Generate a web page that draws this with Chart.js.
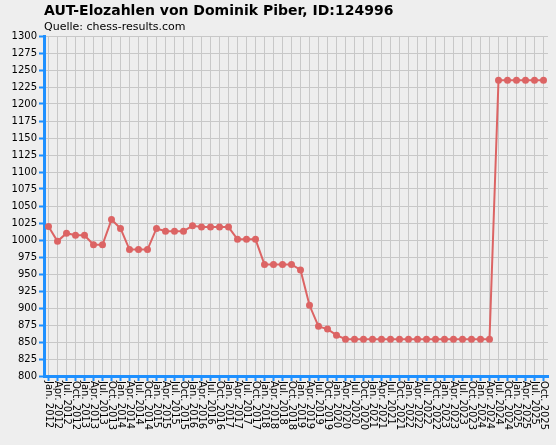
<!DOCTYPE html>
<html><head><meta charset="utf-8">
<script src="https://cdn.jsdelivr.net/npm/chart.js@4"></script>
<style>
html,body{margin:0;padding:0;background:#eeeeee;}
#wrap{position:relative;width:556px;height:445px;}
#t{position:absolute;left:44px;top:2px;font:bold 14px "DejaVu Sans",sans-serif;color:#000;}
#s{position:absolute;left:44px;top:20px;font:11px "DejaVu Sans",sans-serif;color:#000;}
</style></head><body>
<div id="wrap"><canvas id="c" width="556" height="445"></canvas>
<div id="t">AUT-Elozahlen von Dominik Piber, ID:124996</div>
<div id="s">Quelle: chess-results.com</div></div>
<script>
const years=[2012,2013,2014,2015,2016,2017,2018,2019,2020,2021,2022,2023,2024,2025];
const months=["Jan.","Apr.","Jul.","Oct."];
const labels=[];years.forEach(y=>months.forEach(m=>labels.push(m+" "+y)));
const elo=[1020,998,1010,1007, 1007,993,993,1030, 1017,986,986,986, 1017,1013,1013,1013,
 1021,1019,1019,1019, 1019,1001,1001,1001, 964,964,964,964, 956,904,873,869,
 860,854,854,854, 854,854,854,854, 854,854,854,854, 854,854,854,854,
 854,854,1235,1235, 1235,1235,1235,1235];
const blue="#1e90ff";
const rotLabels={id:"rotLabels",afterDraw(ch){const x=ch.scales.x,ctx=ch.ctx;ctx.save();ctx.font='10px "DejaVu Sans", sans-serif';ctx.fillStyle="#000";ctx.textBaseline="middle";ctx.textAlign="left";
 labels.forEach((l,i)=>{const px=x.getPixelForValue(i);ctx.save();ctx.translate(px,ch.chartArea.bottom+5);ctx.rotate(Math.PI/2);ctx.fillText(l,0,0);ctx.restore();});ctx.restore();}};
new Chart(document.getElementById("c"),{type:"line",
 data:{labels,datasets:[{data:elo,borderColor:"#dc6464",backgroundColor:"#dc6464",borderWidth:2,pointRadius:2.5,pointBackgroundColor:"#dc6464",tension:0}]},
 options:{responsive:false,animation:false,layout:{padding:{top:36,right:8,left:0,bottom:0}},
 plugins:{legend:{display:false},tooltip:{enabled:false}},
 scales:{
  x:{offset:true,afterFit(s){s.height=69;},grid:{offset:false,color:"#c8c8c8",tickColor:blue,tickLength:5,tickWidth:2},border:{color:blue,width:3},ticks:{display:false,autoSkip:false}},
  y:{min:800,max:1300,afterFit(s){s.width=44;},grid:{color:"#c8c8c8",tickColor:blue,tickLength:5,tickWidth:2},border:{color:blue,width:3},
   ticks:{stepSize:25,color:"#000",font:{family:"DejaVu Sans",size:10},padding:2,callback:v=>String(v)}}}},
 plugins:[rotLabels]});
</script></body></html>
